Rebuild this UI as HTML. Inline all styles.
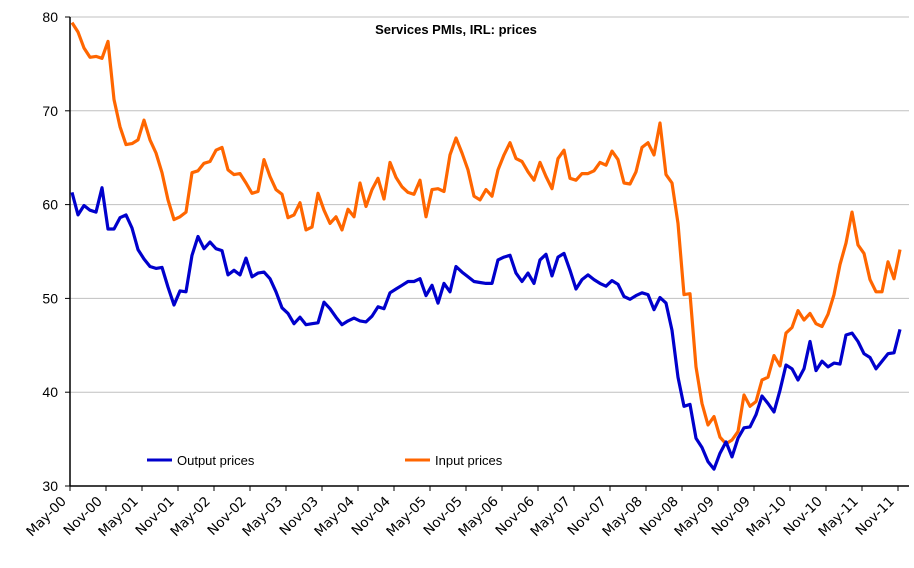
<!DOCTYPE html>
<html><head><meta charset="utf-8"><style>
body{margin:0;background:#fff;}
svg text{font-family:"Liberation Sans",sans-serif;}
</style></head><body>
<svg width="914" height="563" viewBox="0 0 914 563">
<g id="grid"></g>
<g id="axes"></g>
<g id="series"></g>
<text x="456" y="34" text-anchor="middle" font-size="13" font-weight="bold">Services PMIs, IRL: prices</text>
<g>
<line x1="147" y1="460" x2="172" y2="460" stroke="#0000cc" stroke-width="3"/>
<text x="177" y="465" font-size="13">Output prices</text>
<line x1="405" y1="460" x2="430" y2="460" stroke="#ff6600" stroke-width="3"/>
<text x="435" y="465" font-size="13">Input prices</text>
</g>
</svg>
<script>
const yTicks=[30,40,50,60,70,80];
const xTickLabels=["May-00","Nov-00","May-01","Nov-01","May-02","Nov-02","May-03","Nov-03","May-04","Nov-04","May-05","Nov-05","May-06","Nov-06","May-07","Nov-07","May-08","Nov-08","May-09","Nov-09","May-10","Nov-10","May-11","Nov-11"];
const inputPrices=[79.4,78.4,76.7,75.7,75.8,75.6,77.4,71.2,68.3,66.4,66.5,66.9,69.0,66.9,65.5,63.4,60.5,58.4,58.7,59.2,63.4,63.6,64.4,64.6,65.8,66.1,63.7,63.2,63.3,62.3,61.2,61.4,64.8,63.0,61.6,61.1,58.6,58.9,60.2,57.3,57.6,61.2,59.4,58.0,58.7,57.3,59.5,58.7,62.3,59.8,61.6,62.8,60.6,64.5,62.9,61.9,61.3,61.1,62.6,58.7,61.6,61.7,61.4,65.3,67.1,65.5,63.7,60.9,60.5,61.6,60.9,63.7,65.3,66.6,64.9,64.6,63.5,62.6,64.5,63.0,61.7,64.9,65.8,62.8,62.6,63.3,63.3,63.6,64.5,64.2,65.7,64.8,62.3,62.2,63.5,66.1,66.6,65.3,68.7,63.2,62.3,58.0,50.4,50.5,42.7,38.8,36.5,37.4,35.2,34.5,34.9,35.8,39.7,38.5,39.0,41.3,41.6,43.9,42.8,46.3,46.9,48.7,47.7,48.4,47.3,47.0,48.3,50.4,53.6,55.9,59.2,55.7,54.8,52.0,50.7,50.7,53.9,52.1,55.2];
const outputPrices=[61.3,58.9,59.9,59.4,59.2,61.8,57.4,57.4,58.6,58.9,57.5,55.2,54.2,53.4,53.2,53.3,51.2,49.3,50.8,50.7,54.6,56.6,55.3,56.0,55.3,55.1,52.5,53.0,52.5,54.3,52.3,52.7,52.8,52.1,50.7,49.0,48.4,47.3,48.0,47.2,47.3,47.4,49.6,48.9,48.0,47.2,47.6,47.9,47.6,47.5,48.1,49.1,48.9,50.6,51.0,51.4,51.8,51.8,52.1,50.3,51.4,49.5,51.6,50.7,53.4,52.8,52.3,51.8,51.7,51.6,51.6,54.1,54.4,54.6,52.7,51.8,52.7,51.6,54.1,54.7,52.4,54.4,54.8,53.0,51.0,52.0,52.5,52.0,51.6,51.3,51.9,51.5,50.2,49.9,50.3,50.6,50.4,48.8,50.1,49.5,46.6,41.6,38.5,38.7,35.1,34.1,32.6,31.8,33.5,34.7,33.1,35.1,36.2,36.3,37.6,39.6,38.8,37.9,40.2,42.9,42.5,41.3,42.5,45.4,42.3,43.3,42.7,43.1,43.0,46.1,46.3,45.4,44.1,43.7,42.5,43.3,44.1,44.2,46.7];
const NS="http://www.w3.org/2000/svg";
const L=70,R=909,T=17,B=486,STEP=6;
function yOf(v){return B-(v-30)/(80-30)*(B-T);}
function xOf(i){return L+2+i*STEP;}
function mk(tag,attrs,parent){const e=document.createElementNS(NS,tag);for(const k in attrs)e.setAttribute(k,attrs[k]);parent.appendChild(e);return e;}
const grid=document.getElementById('grid'),axes=document.getElementById('axes'),series=document.getElementById('series');
yTicks.forEach(v=>{
  if(v>30){const g=mk('line',{x1:L,x2:R,y1:yOf(v),y2:yOf(v),stroke:'#c0c0c0','stroke-width':1},grid);
  
  }
  const t=mk('line',{x1:L-5,x2:L,y1:yOf(v),y2:yOf(v),stroke:'#000','stroke-width':1},axes);
  
  
  const lb=mk('text',{x:L-12,y:yOf(v)+5,'text-anchor':'end','font-size':14},axes);
  lb.textContent=v;
  
  
});
const ya=mk('line',{x1:L,x2:L,y1:T,y2:B,stroke:'#000','stroke-width':1.5},axes);


const xa=mk('line',{x1:L,x2:R,y1:B,y2:B,stroke:'#000','stroke-width':1.5},axes);


xTickLabels.forEach((s,k)=>{
  const x=L+k*6*STEP;
  const t=mk('line',{x1:x,x2:x,y1:B,y2:B+5,stroke:'#000','stroke-width':1},axes);
  
  
  const ax=x-3, ay=B+16;
  const lb=mk('text',{x:ax,y:ay,'text-anchor':'end','font-size':13.5,style:'font-family:"DejaVu Sans",sans-serif',transform:`rotate(-45 ${ax} ${ay})`},axes);
  lb.textContent=s;
  
  
});
function drawLine(vals,color,name){
  const d=vals.map((v,i)=>(i?'L':'M')+xOf(i).toFixed(1)+' '+yOf(v).toFixed(1)).join(' ');
  const p=mk('path',{d:d,fill:'none',stroke:color,'stroke-width':3.2,'stroke-linejoin':'round'},series);
  
  
}
drawLine(inputPrices,'#ff6600','input-prices-line');
drawLine(outputPrices,'#0000cc','output-prices-line');
</script>
</body></html>
